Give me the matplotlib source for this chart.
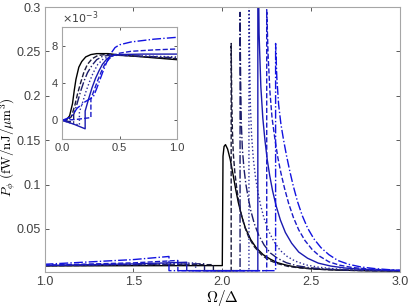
import matplotlib.pyplot as plt
import numpy as np

plt.rcParams['font.family'] = ['Liberation Sans', 'DejaVu Sans']
plt.rcParams['mathtext.fontset'] = 'cm'

# threshold frequencies of the seven curves (Omega/Delta)
thresholds = [2.0, 2.05, 2.1, 2.15, 2.2, 2.25, 2.3]
colors = ['#000000', '#1a1a3a', '#1c1c6a', '#2a2a9a', '#1a1ab0', '#1a1ac8', '#1212e0']
styles = ['-', '--', '-.', ':', '-', '--', '-.']

# main panel, P_phi in fW/nJ/um^3
main_x = [
    [1.0, 1.5, 2.0, 2.0, 2.004, 2.01, 2.018, 2.03, 2.045, 2.06, 2.075, 2.09, 2.11, 2.13, 2.16, 2.19, 2.23, 2.27, 2.31, 2.36, 2.41, 2.47, 2.55, 2.65, 2.8, 3.0],
    [1.0, 1.5, 1.95, 1.95, 2.05, 2.05, 2.053, 2.057, 2.062, 2.07, 2.08, 2.09, 2.105, 2.125, 2.15, 2.18, 2.22, 2.26, 2.31, 2.37, 2.44, 2.52, 2.65, 2.8, 3.0],
    [1.0, 1.5, 1.9, 1.9, 2.1, 2.1, 2.103, 2.107, 2.113, 2.122, 2.133, 2.145, 2.16, 2.18, 2.205, 2.235, 2.27, 2.31, 2.36, 2.42, 2.49, 2.57, 2.68, 2.83, 3.0],
    [1.0, 1.5, 1.85, 1.85, 2.15, 2.15, 2.153, 2.158, 2.165, 2.175, 2.187, 2.2, 2.215, 2.235, 2.26, 2.29, 2.325, 2.365, 2.41, 2.47, 2.54, 2.62, 2.72, 2.86, 3.0],
    [1.0, 1.5, 1.8, 1.8, 2.2, 2.2, 2.207, 2.217, 2.228, 2.24, 2.253, 2.267, 2.283, 2.303, 2.327, 2.355, 2.39, 2.43, 2.48, 2.54, 2.61, 2.69, 2.79, 2.9, 3.0],
    [1.0, 1.5, 1.75, 1.75, 2.25, 2.25, 2.258, 2.268, 2.28, 2.297, 2.313, 2.33, 2.35, 2.373, 2.4, 2.43, 2.465, 2.505, 2.55, 2.6, 2.66, 2.73, 2.82, 2.92, 3.0],
    [1.0, 1.5, 1.7, 1.7, 2.3, 2.3, 2.307, 2.317, 2.33, 2.345, 2.362, 2.38, 2.4, 2.423, 2.45, 2.48, 2.515, 2.555, 2.6, 2.65, 2.71, 2.78, 2.86, 2.94, 3.0],
]
main_y = [
    [0.0084, 0.0086, 0.0087, 0.0087, 0.132, 0.143, 0.145, 0.14, 0.128, 0.112, 0.095, 0.08, 0.064, 0.051, 0.038, 0.029, 0.021, 0.016, 0.012, 0.0092, 0.0072, 0.0058, 0.0046, 0.0037, 0.003, 0.0026],
    [0.0086, 0.0092, 0.0098, 0.003, 0.003, 0.259, 0.2, 0.16, 0.135, 0.115, 0.098, 0.084, 0.068, 0.053, 0.04, 0.03, 0.021, 0.015, 0.011, 0.0078, 0.006, 0.0047, 0.0036, 0.003, 0.0026],
    [0.0087, 0.0098, 0.0108, 0.003, 0.003, 0.294, 0.22, 0.17, 0.14, 0.118, 0.1, 0.086, 0.071, 0.056, 0.043, 0.032, 0.023, 0.017, 0.012, 0.0085, 0.0064, 0.005, 0.0039, 0.0031, 0.0027],
    [0.0088, 0.0102, 0.0118, 0.003, 0.003, 0.36, 0.25, 0.19, 0.155, 0.128, 0.108, 0.092, 0.077, 0.062, 0.048, 0.036, 0.026, 0.019, 0.0138, 0.0095, 0.007, 0.0053, 0.0041, 0.0032, 0.0028],
    [0.0089, 0.0106, 0.0125, 0.003, 0.003, 0.4, 0.27, 0.21, 0.175, 0.15, 0.128, 0.11, 0.093, 0.076, 0.06, 0.046, 0.034, 0.024, 0.017, 0.0115, 0.0082, 0.006, 0.0045, 0.0036, 0.0031],
    [0.0092, 0.0118, 0.0145, 0.003, 0.003, 0.297, 0.245, 0.205, 0.175, 0.15, 0.13, 0.113, 0.096, 0.079, 0.063, 0.049, 0.037, 0.027, 0.019, 0.013, 0.0092, 0.0066, 0.0049, 0.0038, 0.0033],
    [0.0102, 0.0155, 0.019, 0.003, 0.003, 0.259, 0.22, 0.19, 0.168, 0.15, 0.132, 0.115, 0.098, 0.081, 0.065, 0.051, 0.039, 0.029, 0.021, 0.0145, 0.0102, 0.0072, 0.0053, 0.0041, 0.0035],
]

# inset, low-frequency part (x 1e-3)
inset_x = [
    [0, 0.04, 0.065, 0.09, 0.105, 0.12, 0.145, 0.17, 0.205, 0.25, 0.3, 0.4, 0.5, 0.7, 1.0],
    [0, 0.05, 0.08, 0.11, 0.135, 0.16, 0.19, 0.22, 0.26, 0.31, 0.37, 0.45, 0.55, 0.75, 1.0],
    [0, 0.05, 0.1, 0.1, 0.13, 0.16, 0.19, 0.22, 0.26, 0.3, 0.35, 0.42, 0.52, 0.75, 1.0],
    [0, 0.08, 0.15, 0.15, 0.18, 0.21, 0.24, 0.27, 0.31, 0.36, 0.42, 0.5, 0.7, 1.0],
    [0, 0.1, 0.2, 0.2, 0.23, 0.26, 0.29, 0.32, 0.35, 0.39, 0.44, 0.5, 0.7, 1.0],
    [0, 0.12, 0.25, 0.25, 0.28, 0.31, 0.34, 0.37, 0.41, 0.45, 0.5, 0.6, 0.8, 1.0],
    [0, 0.08, 0.13, 0.2, 0.27, 0.3, 0.33, 0.36, 0.39, 0.42, 0.46, 0.5, 0.6, 0.8, 1.0],
]
inset_y = [
    [0, 0.1, 0.5, 1.8, 3.2, 4.4, 5.7, 6.3, 6.8, 7.05, 7.15, 7.15, 7.0, 6.8, 6.5],
    [0, 0.05, 0.4, 1.6, 2.9, 4.0, 5.2, 6.0, 6.6, 6.95, 7.05, 7.05, 6.95, 6.8, 6.6],
    [0, -0.1, -0.2, 0.6, 1.8, 3.1, 4.2, 5.1, 5.9, 6.5, 6.85, 7.0, 6.95, 6.85, 6.7],
    [0, -0.3, -0.5, 0.9, 2.0, 3.2, 4.2, 5.1, 6.0, 6.6, 6.9, 7.0, 6.9, 6.8],
    [0, -0.4, -0.9, 1.0, 2.3, 3.5, 4.5, 5.3, 6.0, 6.6, 6.95, 7.05, 7.1, 7.1],
    [0, 0.1, 0.3, 2.3, 3.3, 4.3, 5.2, 6.0, 6.6, 7.0, 7.2, 7.4, 7.55, 7.65],
    [0, 0.4, 1.3, 2.0, 2.5, 3.4, 4.4, 5.4, 6.3, 7.1, 7.8, 8.1, 8.4, 8.7, 8.9],
]

fig = plt.figure(figsize=(4.09, 3.07), dpi=100)
ax = fig.add_axes([0.109, 0.114, 0.869, 0.863])

for i in range(len(thresholds)):
    ax.plot(main_x[i], main_y[i], color=colors[i], ls=styles[i], lw=1.0)

ax.set_xlim(1.0, 3.0)
ax.set_ylim(0.0015, 0.3)
ax.set_xticks([1.0, 1.5, 2.0, 2.5, 3.0])
ax.set_xticklabels(['1.0', '1.5', '2.0', '2.5', '3.0'])
ax.set_yticks([0.05, 0.1, 0.15, 0.2, 0.25, 0.3])
ax.set_yticklabels(['0.05', '0.1', '0.15', '0.2', '0.25', '0.3'])
ax.set_xlabel(r'$\Omega/\Delta$', fontsize=11, labelpad=0)
ax.set_ylabel(r'$P_\phi\ (\mathrm{fW/nJ}/\mu\mathrm{m}^3)$', fontsize=9.5)
ax.yaxis.set_label_coords(-0.074, 0.47)
ax.tick_params(direction='in', top=True, right=True, labelsize=9, colors='0.25', length=3, width=0.6, pad=3)
for s in ax.spines.values():
    s.set_color('0.65')
    s.set_linewidth(0.8)

ins = fig.add_axes([0.152, 0.547, 0.281, 0.365])
for i in range(len(thresholds)):
    ins.plot(inset_x[i], np.array(inset_y[i]) * 1e-3, color=colors[i], ls=styles[i], lw=1.0)
ins.set_xlim(0, 1)
ins.set_ylim(-2e-3, 10e-3)
ins.set_xticks([0, 0.5, 1.0])
ins.set_xticklabels(['0.0', '0.5', '1.0'])
ins.set_yticks([0, 4e-3, 8e-3])
ins.set_yticklabels(['0', '4', '8'])
ins.tick_params(direction='in', top=True, right=True, labelsize=8, colors='0.25', length=2.5, width=0.6, pad=3)
for s in ins.spines.values():
    s.set_color('0.65')
    s.set_linewidth(0.8)
ins.text(0.0, 1.01, r'$\times10^{-3}$', transform=ins.transAxes, fontsize=8,
         color='0.25', ha='left', va='bottom', math_fontfamily='dejavusans')

fig.savefig('out.png', dpi=100)
